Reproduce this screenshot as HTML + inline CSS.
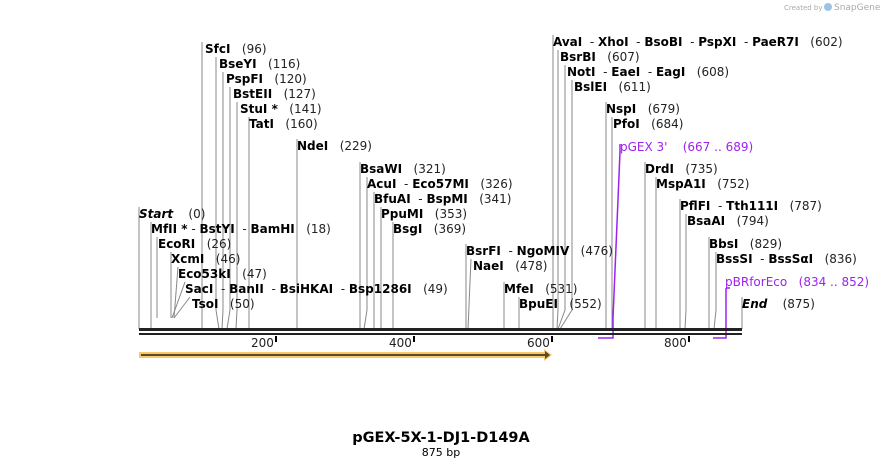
<!DOCTYPE html>
<html><head><meta charset="utf-8"><style>
html,body{margin:0;padding:0;background:#fff;width:882px;height:468px;overflow:hidden}
svg text{font-family:"DejaVu Sans","Liberation Sans",sans-serif;font-size:12px;white-space:pre}
.b{font-weight:bold;fill:#000}
.n{font-weight:normal;fill:#222}
.p{fill:#a020f0}
.l{stroke:#888;stroke-width:1;fill:none}
</style></head><body>
<svg width="882" height="468" xmlns="http://www.w3.org/2000/svg">
<text x="784" y="10" style="font-size:7px;fill:#aaa">Created by</text>
<circle cx="828" cy="7" r="4" fill="#9cc3e6"/>
<text x="834" y="10" style="font-size:9px;fill:#aaa">SnapGene</text>

<g id="lines">
<polyline class="l" points="202,42 202,329"/>
<polyline class="l" points="216,57 216,310 219,329"/>
<polyline class="l" points="223,72 223,310 222,329"/>
<polyline class="l" points="230,87 230,310 227,329"/>
<polyline class="l" points="237,102 237,310 236,329"/>
<polyline class="l" points="249,117 249,329"/>
<polyline class="l" points="297,139 297,329"/>
<polyline class="l" points="360,162 360,329"/>
<polyline class="l" points="367,177 367,310 364,329"/>
<polyline class="l" points="374,192 374,329"/>
<polyline class="l" points="381,207 381,329"/>
<polyline class="l" points="393,222 393,329"/>
<polyline class="l" points="139,207 139,329"/>
<polyline class="l" points="151,222 151,329"/>
<polyline class="l" points="157,237 157,318"/>
<polyline class="l" points="171,252 171,318"/>
<polyline class="l" points="178,267 174,318"/>
<polyline class="l" points="185,282 172,318"/>
<polyline class="l" points="190,297 174,318"/>
<polyline class="l" points="466,244 466,329"/>
<polyline class="l" points="471,259 468,329"/>
<polyline class="l" points="504,282 504,329"/>
<polyline class="l" points="519,297 519,329"/>
<polyline class="l" points="553,35 553,329"/>
<polyline class="l" points="558,50 558,310 557,329"/>
<polyline class="l" points="565,65 565,310 558,329"/>
<polyline class="l" points="572,80 572,310 560,329"/>
<polyline class="l" points="606,102 606,329"/>
<polyline class="l" points="612,117 612,329"/>
<polyline class="l" points="645,162 645,329"/>
<polyline class="l" points="656,177 656,329"/>
<polyline class="l" points="680,199 680,329"/>
<polyline class="l" points="686,214 686,310 685,329"/>
<polyline class="l" points="709,237 709,329"/>
<polyline class="l" points="716,252 716,310 714,329"/>
<polyline class="l" points="742,297 742,329"/>
</g>
<polyline points="598,338 613,338 613,318 620,152 620,144" stroke="#a020f0" stroke-width="1.5" fill="none"/>
<polyline points="713,338 726,338 726,288" stroke="#a020f0" stroke-width="1.5" fill="none"/>
<line x1="726" y1="288" x2="730" y2="288" stroke="#a020f0" stroke-width="1.5"/>

<rect x="139" y="328" width="603" height="3" fill="#222"/>
<rect x="139" y="333" width="603" height="2" fill="#222"/>
<g fill="#000">
<rect x="275" y="336" width="2" height="6"/>
<rect x="413" y="336" width="2" height="6"/>
<rect x="551" y="336" width="2" height="6"/>
<rect x="688" y="336" width="2" height="6"/>
</g>
<text x="251" y="347" class="n">200</text>
<text x="389" y="347" class="n">400</text>
<text x="527" y="347" class="n">600</text>
<text x="664" y="347" class="n">800</text>
<rect x="139" y="352" width="407" height="6" fill="#f7c96b"/>
<polygon points="544,349 552,355 544,361" fill="#f7c96b"/>
<rect x="141" y="354" width="405" height="2" fill="#5a4a2a"/>
<polygon points="545,351 550,355 545,359" fill="#5a4a2a"/>

<g>
<text x="205" y="53"><tspan class="b">SfcI</tspan><tspan class="n">   (96)</tspan></text>
<text x="219" y="68"><tspan class="b">BseYI</tspan><tspan class="n">   (116)</tspan></text>
<text x="226" y="83"><tspan class="b">PspFI</tspan><tspan class="n">   (120)</tspan></text>
<text x="233" y="98"><tspan class="b">BstEII</tspan><tspan class="n">   (127)</tspan></text>
<text x="240" y="113"><tspan class="b">StuI *</tspan><tspan class="n">   (141)</tspan></text>
<text x="249" y="128"><tspan class="b">TatI</tspan><tspan class="n">   (160)</tspan></text>
<text x="297" y="150"><tspan class="b">NdeI</tspan><tspan class="n">   (229)</tspan></text>
<text x="360" y="173"><tspan class="b">BsaWI</tspan><tspan class="n">   (321)</tspan></text>
<text x="367" y="188"><tspan class="b">AcuI</tspan><tspan class="n">  - </tspan><tspan class="b">Eco57MI</tspan><tspan class="n">   (326)</tspan></text>
<text x="374" y="203"><tspan class="b">BfuAI</tspan><tspan class="n">  - </tspan><tspan class="b">BspMI</tspan><tspan class="n">   (341)</tspan></text>
<text x="381" y="218"><tspan class="b">PpuMI</tspan><tspan class="n">   (353)</tspan></text>
<text x="393" y="233"><tspan class="b">BsgI</tspan><tspan class="n">   (369)</tspan></text>
<text x="139" y="218"><tspan class="b" font-style="italic">Start</tspan><tspan class="n">    (0)</tspan></text>
<text x="151" y="233"><tspan class="b">MfII *</tspan><tspan class="n"> - </tspan><tspan class="b">BstYI</tspan><tspan class="n">  - </tspan><tspan class="b">BamHI</tspan><tspan class="n">   (18)</tspan></text>
<text x="158" y="248"><tspan class="b">EcoRI</tspan><tspan class="n">   (26)</tspan></text>
<text x="171" y="263"><tspan class="b">XcmI</tspan><tspan class="n">   (46)</tspan></text>
<text x="178" y="278"><tspan class="b">Eco53kI</tspan><tspan class="n">   (47)</tspan></text>
<text x="185" y="293"><tspan class="b">SacI</tspan><tspan class="n">  - </tspan><tspan class="b">BanII</tspan><tspan class="n">  - </tspan><tspan class="b">BsiHKAI</tspan><tspan class="n">  - </tspan><tspan class="b">Bsp1286I</tspan><tspan class="n">   (49)</tspan></text>
<text x="192" y="308"><tspan class="b">TsoI</tspan><tspan class="n">   (50)</tspan></text>
<text x="466" y="255"><tspan class="b">BsrFI</tspan><tspan class="n">  - </tspan><tspan class="b">NgoMIV</tspan><tspan class="n">   (476)</tspan></text>
<text x="473" y="270"><tspan class="b">NaeI</tspan><tspan class="n">   (478)</tspan></text>
<text x="504" y="293"><tspan class="b">MfeI</tspan><tspan class="n">   (531)</tspan></text>
<text x="519" y="308"><tspan class="b">BpuEI</tspan><tspan class="n">   (552)</tspan></text>
<text x="553" y="46"><tspan class="b">AvaI</tspan><tspan class="n">  - </tspan><tspan class="b">XhoI</tspan><tspan class="n">  - </tspan><tspan class="b">BsoBI</tspan><tspan class="n">  - </tspan><tspan class="b">PspXI</tspan><tspan class="n">  - </tspan><tspan class="b">PaeR7I</tspan><tspan class="n">   (602)</tspan></text>
<text x="560" y="61"><tspan class="b">BsrBI</tspan><tspan class="n">   (607)</tspan></text>
<text x="567" y="76"><tspan class="b">NotI</tspan><tspan class="n">  - </tspan><tspan class="b">EaeI</tspan><tspan class="n">  - </tspan><tspan class="b">EagI</tspan><tspan class="n">   (608)</tspan></text>
<text x="574" y="91"><tspan class="b">BslEI</tspan><tspan class="n">   (611)</tspan></text>
<text x="606" y="113"><tspan class="b">NspI</tspan><tspan class="n">   (679)</tspan></text>
<text x="613" y="128"><tspan class="b">PfoI</tspan><tspan class="n">   (684)</tspan></text>
<text x="620" y="151" class="p">pGEX 3'    (667 .. 689)</text>
<text x="645" y="173"><tspan class="b">DrdI</tspan><tspan class="n">   (735)</tspan></text>
<text x="656" y="188"><tspan class="b">MspA1I</tspan><tspan class="n">   (752)</tspan></text>
<text x="680" y="210"><tspan class="b">PflFI</tspan><tspan class="n">  - </tspan><tspan class="b">Tth111I</tspan><tspan class="n">   (787)</tspan></text>
<text x="687" y="225"><tspan class="b">BsaAI</tspan><tspan class="n">   (794)</tspan></text>
<text x="709" y="248"><tspan class="b">BbsI</tspan><tspan class="n">   (829)</tspan></text>
<text x="716" y="263"><tspan class="b">BssSI</tspan><tspan class="n">  - </tspan><tspan class="b">BssSαI</tspan><tspan class="n">   (836)</tspan></text>
<text x="725" y="286" class="p">pBRforEco   (834 .. 852)</text>
<text x="742" y="308"><tspan class="b" font-style="italic">End</tspan><tspan class="n">    (875)</tspan></text>
</g>
<text x="441" y="442" text-anchor="middle" style="font-size:14.5px;font-weight:bold">pGEX-5X-1-DJ1-D149A</text>
<text x="441" y="456" text-anchor="middle" style="font-size:11px">875 bp</text>
</svg>
</body></html>
